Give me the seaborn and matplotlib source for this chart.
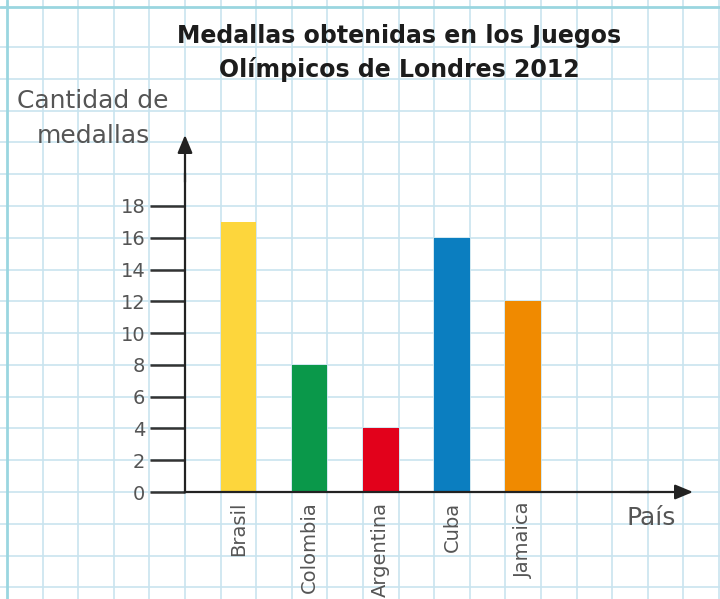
import matplotlib
matplotlib.use('Agg')
import matplotlib.pyplot as plt
import seaborn as sns
import numpy as np
import pandas as pd

# ---- data ----
paises = ['Brasil', 'Colombia', 'Argentina', 'Cuba', 'Jamaica']
medallas = [17, 8, 4, 16, 12]
posiciones = [1.5, 3.5, 5.5, 7.5, 9.5]
colores = ['#FDD63C', '#0A984A', '#E2011B', '#0B7EC0', '#F08A00']
yticks = list(range(0, 20, 2))
titulo = ['Medallas obtenidas en los Juegos', 'Olímpicos de Londres 2012']
ylabel = ['Cantidad de', 'medallas']
xlabel = 'País'

sns.set_theme(style='white')
plt.rcParams['font.family'] = ['DejaVu Sans']

W, H = 720, 599
X0, Y0 = 185, 492      # pixel position of the origin
PX_U = 35.6            # pixels per grid column
PX_V = 15.89           # pixels per medal

fig = plt.figure(figsize=(7.2, 5.99), dpi=100)
ax = fig.add_axes([0, 0, 1, 1])
ax.set_facecolor('white')

# graph-paper background
grid_c = '#C9E4EF'
for u in np.arange(-4, 16):
    ax.axvline(u, color=grid_c, lw=1.2, zorder=0)
for v in np.arange(-6, 29, 2):
    ax.axhline(v, color=grid_c, lw=1.2, zorder=0)
border_c = '#9AD6E0'
ax.axvline(-5, color=border_c, lw=2.0, zorder=0)
ax.axhline((Y0 - 7) / PX_V, color=border_c, lw=2.0, zorder=0)

df = pd.DataFrame({'pais': paises, 'medallas': medallas, 'pos': posiciones})
sns.barplot(data=df, x='pos', y='medallas', hue='pais', hue_order=paises,
            palette=colores, native_scale=True, width=0.5, dodge=False,
            saturation=1, legend=False, edgecolor='none', linewidth=0, ax=ax)

ax.set_xlim(-X0 / PX_U, (W - X0) / PX_U)
ax.set_ylim(-(H - Y0) / PX_V, Y0 / PX_V)
ax.set_xlabel('')
ax.set_ylabel('')

# axes
for s in ['top', 'right']:
    ax.spines[s].set_visible(False)
ax.spines['left'].set_position(('data', 0))
ax.spines['left'].set_bounds(0, 20)
ax.spines['bottom'].set_position(('data', 0))
ax.spines['bottom'].set_bounds(0, 13)
for s in ['left', 'bottom']:
    ax.spines[s].set_color('#222222')
    ax.spines[s].set_linewidth(1.6)
    ax.spines[s].set_zorder(3)

arrow = dict(arrowstyle='-|>,head_length=0.6,head_width=0.25',
             mutation_scale=18, lw=1.6, color='#222222', shrinkA=0, shrinkB=0)
ax.annotate('', xy=(0, (Y0 - 135) / PX_V), xytext=(0, 19.5), arrowprops=arrow)
ax.annotate('', xy=((693 - X0) / PX_U, 0), xytext=(12.5, 0), arrowprops=arrow)

ax.set_yticks(yticks)
ax.set_yticklabels([str(t) for t in yticks])
ax.tick_params(axis='y', left=True, length=25.2, width=1.8, color='#333333',
               direction='out', pad=3.5, labelsize=14, labelcolor='#555555')
ax.set_xticks(posiciones)
ax.set_xticklabels(paises, rotation=90)
ax.tick_params(axis='x', bottom=True, length=0, pad=7, labelsize=14,
               labelcolor='#555555')

# texts
fig.text(399 / W, 1 - 43 / H, titulo[0], ha='center', va='baseline',
         fontsize=17, fontweight='bold', color='#1c1c1c')
fig.text(399 / W, 1 - 77 / H, titulo[1], ha='center', va='baseline',
         fontsize=17, fontweight='bold', color='#1c1c1c')
fig.text(93 / W, 1 - 108 / H, ylabel[0], ha='center', va='baseline',
         fontsize=18, color='#555555')
fig.text(93 / W, 1 - 143 / H, ylabel[1], ha='center', va='baseline',
         fontsize=18, color='#555555')
fig.text(651 / W, 1 - 525 / H, xlabel, ha='center', va='baseline',
         fontsize=18, color='#555555')

fig.savefig('out.png', dpi=100)
